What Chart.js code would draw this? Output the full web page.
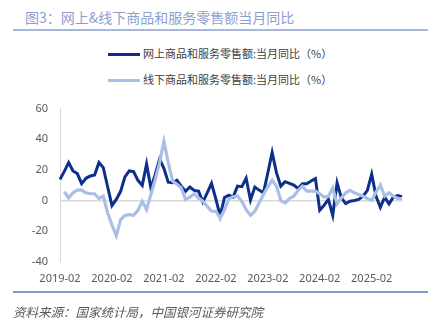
<!DOCTYPE html>
<html>
<head>
<meta charset="utf-8">
<script src="https://cdn.jsdelivr.net/npm/chart.js@4.4.1/dist/chart.umd.min.js"></script>
<style>
  body { margin: 0; background: #fff; font-family: "Noto Sans CJK SC", "Noto Sans", sans-serif; }
  #page { position: relative; width: 434px; height: 331px; overflow: hidden; }
  #title { position: absolute; left: 25px; top: 7px; font-size: 14px; color: #8e9fcf; white-space: nowrap; }
  #topline { position: absolute; left: 13px; top: 29px; width: 415px; height: 2px; background: #a8b7dc; }
  .leg { position: absolute; left: 108px; font-size: 11px; color: #404040; white-space: nowrap; }
  .leg span { display: inline-block; width: 32px; height: 3px; vertical-align: middle; margin-right: 3px; position: relative; top: -1px; }
  #chartBox { position: absolute; left: 0; top: 90px; width: 434px; height: 211px; }
  #botline { position: absolute; left: 13px; top: 291px; width: 415px; height: 1.5px; background: #809bd3; }
  #source { position: absolute; left: 13px; top: 302px; font-size: 12.5px; font-style: italic; color: #595959; white-space: nowrap; }
</style>
</head>
<body>
<div id="page">
  <div id="title">图3：网上&amp;线下商品和服务零售额当月同比</div>
  <div id="topline"></div>
  <div class="leg" style="top:45px"><span style="background:#0d2f8c"></span>网上商品和服务零售额:当月同比（%）</div>
  <div class="leg" style="top:71px"><span style="background:#a9bfe8"></span>线下商品和服务零售额:当月同比（%）</div>
  <div id="chartBox"><canvas id="retailChart"></canvas></div>
  <div id="botline"></div>
  <div id="source">资料来源：国家统计局，中国银河证券研究院</div>
</div>
<script>
// 月份标签 2019-02 ~ 2025-09
const labels = [];
for (let y = 2019, m = 2; labels.length < 80; m++) {
    if (m > 12) { m = 1; y++; }
    labels.push(y + '-' + String(m).padStart(2, '0'));
}

// 网上商品和服务零售额:当月同比（%）
const online = [
    13.8, 19, 24.8, 19.3, 17.6, 11, 14.5, 16, 16.7, 24.8, 21.5, 9,
    -3.3, 0.7, 6, 15.4, 19.3, 18.9, 13.2, 9.9, 23.8, 8, 17, 27,
    21, 12, 11.6, 13.2, 9.4, 6, 8.8, 6.6, 6.1, -1, 5, 11.2,
    1, -10, 2, 3.5, 2.2, 9.4, 9, 14.5, 0.2, 8.8, 6.8, 5,
    18, 31.4, 18.2, 9.4, 12.3, 11.2, 10.1, 7.9, 11, 11, 12.7, 14.3,
    -6.4, -3.1, 0.7, -9.7, 11.6, 1.7, -2, -0.5, 0, 0.7, 2.8, 6.6,
    17.2, 2.8, -4.4, 2.2, -2.2, 2.2, 3.3, 2.5
];

// 线下商品和服务零售额:当月同比（%）
const offline = [
    null, 5.7, 1.7, 5, 7, 6.8, 5, 4.6, 4.4, 1.3, 2.8, -8,
    -16, -23, -12.5, -9.7, -9.2, -9.7, -6.4, -0.5, -6, 4, 13.8, 24.8,
    38.7, 24.8, 12.7, 10.6, 8.3, 0.7, 2.2, 4.4, 1.7, -0.5, -3.8, -7,
    -7, -11.5, -6, 1, 2.5, 3, -0.5, -6, -9.7, -7, -1.6, 4,
    9, 13.2, 9.4, 0, -1.6, 1.3, 2.8, 6.6, 9.4, 6.1, 6.1, 6.1,
    4.4, 2.2, 2.8, 8.3, -2.2, 1.7, 5, 6.6, 5, 4, 2.8, 1.3,
    0, 5.5, 10.1, 2.8, 5, 2.8, 1.3, 1.3
];

const yTicks = [-40, -20, 0, 20, 40, 60];

const tickFont = { family: '"Noto Sans", "Noto Sans CJK SC", sans-serif', size: 11 };

const ctx = document.getElementById('retailChart').getContext('2d');
const retailChart = new Chart(ctx, {
    type: 'line',
    data: {
        labels: labels,
        datasets: [{
            label: '线下商品和服务零售额:当月同比（%）',
            data: offline,
            borderColor: '#a9bfe8',
            borderWidth: 3.2, pointRadius: 0, tension: 0
        }, {
            label: '网上商品和服务零售额:当月同比（%）',
            data: online,
            borderColor: '#0d2f8c',
            borderWidth: 3, pointRadius: 0, tension: 0
        }]
    },
    options: {
        responsive: true, maintainAspectRatio: false, animation: false,
        layout: { padding: { top: 8, right: 32, bottom: 6, left: 0 } },
        plugins: { legend: { display: false }, tooltip: { enabled: false } },
        scales: {
            x: {
                offset: false,
                grid: { display: false, drawTicks: false },
                border: { display: false },
                ticks: {
                    autoSkip: false, maxRotation: 0, padding: 10,
                    color: '#595959', font: tickFont,
                    callback: function (v, i) {
                        const l = labels[i];
                        return l.endsWith('-02') ? l : null;
                    }
                }
            },
            y: {
                min: -40, max: 60,
                afterFit: s => { s.width = 60; },
                afterBuildTicks: s => { s.ticks = yTicks.map(v => ({ value: v })); },
                grid: {
                    drawTicks: false, lineWidth: 1.5,
                    color: c => c.tick && c.tick.value === 0 ? '#d9d9d9' : 'transparent'
                },
                border: { display: true, color: '#d9d9d9', width: 1 },
                ticks: { padding: 12, color: '#595959', font: tickFont }
            }
        }
    }
});
</script>
</body>
</html>
